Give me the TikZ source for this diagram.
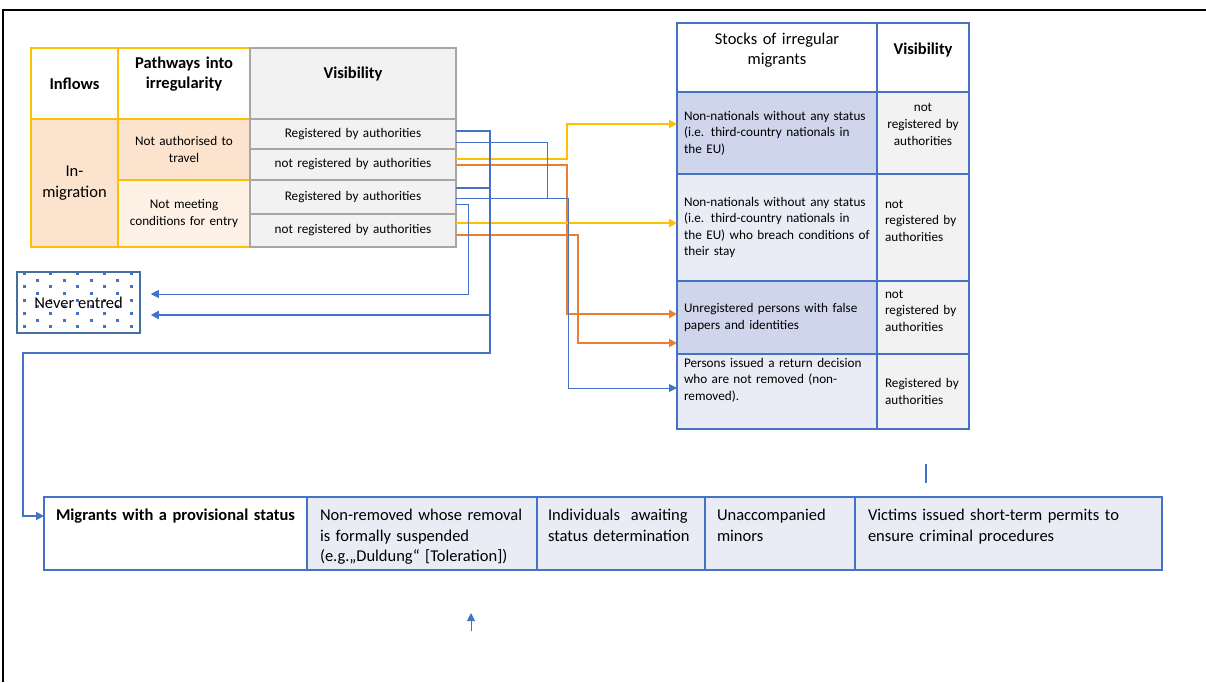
\documentclass[tikz,border=0pt]{standalone}
\usepackage{fontspec}
\setmainfont{Carlito}
\usetikzlibrary{arrows.meta, positioning, backgrounds}
\definecolor{ylw}{HTML}{FFC000}
\definecolor{org}{HTML}{ED7D31}
\definecolor{orfill}{HTML}{FBE3CD}
\definecolor{orlight}{HTML}{FEF2E6}
\definecolor{gfill}{HTML}{F2F2F2}
\definecolor{gline}{HTML}{A6A6A6}
\definecolor{acc}{HTML}{4472C4}
\definecolor{bdark}{HTML}{CFD5EA}
\definecolor{blight}{HTML}{E9EBF5}
\definecolor{nvr}{HTML}{41719C}
\newcommand{\txtsmall}{\fontsize{13.2pt}{16.5pt}\selectfont}
\newcommand{\txtbig}{\fontsize{16.5pt}{20.5pt}\selectfont}

\begin{document}
\begin{tikzpicture}[x=1pt, y=-1pt, font=\txtsmall, >={Triangle[length=8pt, width=8pt]}, node distance=0pt,
    cell/.style={draw, inner ysep=0pt, outer sep=0pt, align=center},
    ycell/.style={cell, draw=ylw, line width=1.6pt},
    gcell/.style={cell, draw=gline, fill=gfill, line width=1.6pt, inner xsep=8pt, text width=190pt, minimum width=206pt},
    scell/.style={cell, draw=acc, line width=1.2pt, align=left, inner xsep=7pt, text width=186pt, minimum width=200pt},
    rcell/.style={cell, draw=acc, fill=gfill, line width=1.2pt, inner xsep=8pt, text width=76pt, minimum width=92pt},
    bcell/.style={cell, draw=acc, fill=blight, line width=1.2pt, align=left, font=\txtbig, text height=23.5pt, text depth=49.5pt},
    ylink/.style={->, draw=ylw, line width=2.2pt},
    olink/.style={->, draw=org, line width=2.2pt},
    blink/.style={draw=acc, line width=2.2pt},
    tlink/.style={draw=acc, line width=0.9pt}]

  \useasboundingbox (0,0) rectangle (1206,682);
  \draw[line width=1.8pt] (3,682) -- (3,10) -- (1206,10);

  % inflows table
  \node[ycell, minimum width=87pt, minimum height=71pt, font=\txtbig\bfseries] (inflows) at (74.5,83.5) {Inflows};
  \node[ycell, right=of inflows, minimum width=132pt, text width=120pt, font=\txtbig\bfseries,
        text height=20.5pt, text depth=50.5pt] (paths) {Pathways into\\irregularity};
  \node[ycell, fill=orfill, below=of inflows, minimum width=87pt, minimum height=128pt, text width=75pt,
        font=\txtbig] (inmig) {In-\\migration};
  \node[ycell, fill=orfill, below=of paths, minimum width=132pt, minimum height=61pt, text width=120pt] (notauth)
    {Not authorised to\\travel};
  \node[ycell, fill=orlight, below=of notauth, minimum width=132pt, minimum height=67pt, text width=120pt] (notmeet)
    {Not meeting\\conditions for entry};

  % visibility column
  \node[gcell, right=of paths, font=\txtbig\bfseries, text height=30.5pt, text depth=40.5pt] (vishead) {Visibility};
  \node[gcell, below=of vishead, minimum height=30pt] (v1) {Registered by authorities};
  \node[gcell, below=of v1, minimum height=31pt] (v2) {not registered by authorities};
  \node[gcell, below=of v2, minimum height=34pt] (v3) {Registered by authorities};
  \node[gcell, below=of v3, minimum height=33pt] (v4) {not registered by authorities};

  % never entered
  \node[draw=nvr, line width=1.5pt, minimum width=123pt, minimum height=61pt, font=\txtbig] (never) at (78.5,302.5)
    {Never entred};
  \begin{scope}[on background layer]
    \foreach \yy in {273.3,286.6,300,313.3,326.6}
      \foreach \xx in {24,50.8,77.6,104.4,131.2}
        \fill[acc] (\xx-1.5,\yy-1.5) rectangle ++(3,3);
    \foreach \yy in {280,293.3,306.6,320}
      \foreach \xx in {37.4,64.2,91,117.8}
        \fill[acc] (\xx-1.5,\yy-1.5) rectangle ++(3,3);
  \end{scope}

  % stocks table
  \node[cell, draw=acc, line width=1.2pt, minimum width=200pt, inner xsep=9pt, text width=182pt, font=\txtbig,
        text height=21.5pt, text depth=47.5pt] (stocks) at (777,57.5) {Stocks of irregular\\migrants};
  \node[rcell, fill=white, right=of stocks, font=\txtbig\bfseries, text height=31.5pt, text depth=37.5pt] (vis2) {Visibility};
  \node[scell, fill=bdark, below=of stocks, minimum height=82pt] (s1)
    {Non-nationals without any status\\(i.e. third-country nationals in\\the EU)};
  \node[rcell, right=of s1, text height=20pt, text depth=62pt] (r1) {not\\registered by\\authorities};
  \node[scell, fill=blight, below=of s1, minimum height=107pt] (s2)
    {Non-nationals without any status\\(i.e. third-country nationals in\\the EU) who breach conditions of\\their stay};
  \node[rcell, align=left, right=of s2, text height=34pt, text depth=73pt] (r2) {not\\registered by\\authorities};
  \node[scell, fill=bdark, below=of s2, minimum height=73pt] (s3)
    {Unregistered persons with false\\papers and identities};
  \node[rcell, align=left, right=of s3, text height=17pt, text depth=56pt] (r3) {not\\registered by\\authorities};
  \node[scell, fill=blight, below=of s3, text height=13pt, text depth=62pt] (s4)
    {Persons issued a return decision\\who are not removed (non-\\removed).};
  \node[rcell, align=left, right=of s4, minimum height=75pt] (r4) {Registered by\\authorities};

  % provisional status row
  \node[bcell, fill=white, minimum width=263pt, inner xsep=12pt, text width=239pt, font=\txtbig\bfseries] (b1)
    at (175.5,533.5) {Migrants with a provisional status};
  \node[bcell, right=of b1, minimum width=230pt, inner xsep=13pt, text width=204pt] (b2)
    {Non-removed whose removal\\is formally suspended\\(e.g.„Duldung“ [Toleration])};
  \node[bcell, right=of b2, minimum width=168pt, inner xsep=11pt, text width=146pt] (b3)
    {Individuals~ awaiting\\status determination};
  \node[bcell, right=of b3, minimum width=150pt, inner xsep=12pt, text width=126pt] (b4) {Unaccompanied\\minors};
  \node[bcell, right=of b4, minimum width=307pt, inner xsep=13pt, text width=281pt] (b5)
    {Victims issued short-term permits to\\ensure criminal procedures};

  % links
  \draw[ylink] ([yshift=5.5pt]v2.east) -- ++(111,0) |- ([yshift=9pt]s1.west);
  \draw[olink] ([yshift=-0.5pt]v2.east) -- ++(111,0) |- ([yshift=3.5pt]s3.west);
  \draw[ylink] ([yshift=7.5pt]v4.east) -- ([yshift=4.5pt]s2.west);
  \draw[olink] ([yshift=-4.5pt]v4.east) -- ++(122,0) |- ([yshift=-25.5pt]s3.west);

  \draw[tlink] ([yshift=-1pt]v3.east) -- (568,198);
  \draw[tlink, ->] ([yshift=-8pt]v1.east) -| (547,198) -| (568,388) -- ([yshift=3.5pt]s4.west);
  \draw[tlink, ->] ([yshift=-7pt]v3.east) -| (468,294) -- ([xshift=10pt, yshift=8.5pt]never.east);

  \draw[blink, ->] ([yshift=9pt]v3.east) -| (490,315) -- ([xshift=10pt, yshift=-12.5pt]never.east);
  \draw[blink, ->] ([yshift=3pt]v1.east) -| (490,353) -| (23,516) -- ([yshift=17.5pt]b1.west);

  % loose marks
  \coordinate (tick) at (926,464);
  \coordinate (upend) at (471,631);
  \draw[acc, line width=1.5pt] (tick) -- ++(0,19);
  \draw[acc, line width=1pt, ->] (upend) -- ++(0,-18);
\end{tikzpicture}
\end{document}
